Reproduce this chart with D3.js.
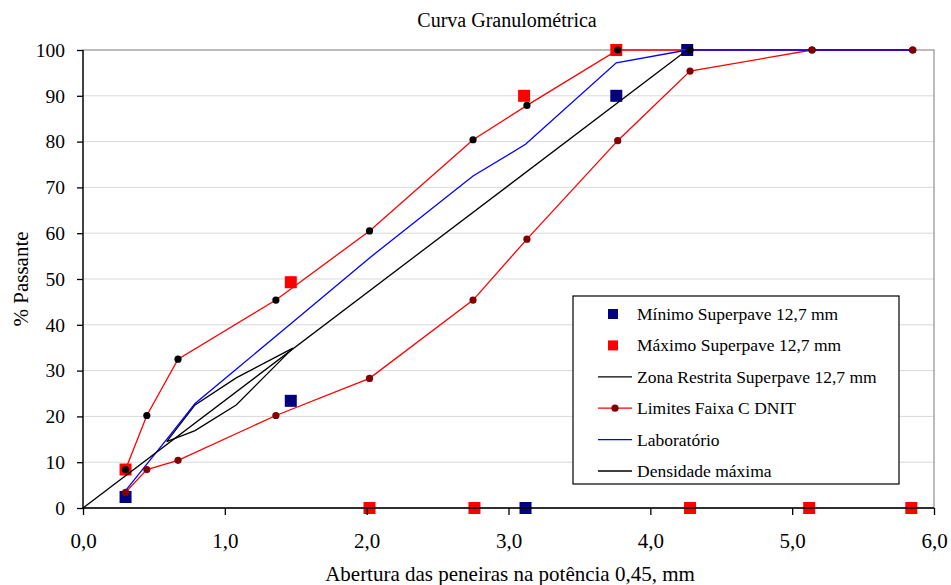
<!DOCTYPE html>
<html>
<head>
<meta charset="utf-8">
<script src="https://cdn.jsdelivr.net/npm/d3@7"></script>
<style>
  body { margin: 0; background: #fff; }
  svg { display: block; }
  svg text { font-family: 'Liberation Serif', serif !important; fill: #000; }
  .grid line { stroke: #d9d9d9; stroke-width: 1; }
  .axis path, .axis line { stroke: #000; stroke-width: 1.3; }
</style>
</head>
<body>
<div id="chart"></div>
<script>
;(function() {
  'use strict';

  // Peneiras na potencia 0,45
  var minimoX = [0.30, 1.465, 3.12, 3.76, 4.26];
  var minimoY = [2.4, 23.4, 0, 90, 100];

  var maximoX = [0.30, 1.465, 2.02, 2.76, 3.11, 3.76, 4.28, 5.12, 5.84];
  var maximoY = [8.4, 49.3, 0, 0, 90, 100, 0, 0, 0];

  var zonaX = [0.59, 0.79, 1.08, 1.48, 1.08, 0.79, 0.59];
  var zonaY = [14.5, 22.5, 28.4, 34.9, 22.5, 16.9, 14.5];

  var dnitX = [0.30, 0.45, 0.67, 1.36, 2.02, 2.75, 3.13, 3.77, 4.28, 5.14, 5.85];
  var dnitSup = [8.4, 20.2, 32.5, 45.4, 60.5, 80.4, 87.9, 100, 100, 100, 100];
  var dnitInf = [3.4, 8.4, 10.4, 20.2, 28.3, 45.4, 58.7, 80.2, 95.4, 100, 100];

  var labX = [0.30, 0.43, 0.59, 0.79, 1.08, 1.48, 2.02, 2.75, 3.12, 3.76, 4.26, 5.14, 5.85];
  var labY = [3.8, 8.8, 15.0, 22.8, 30.3, 40.6, 54.6, 72.5, 79.4, 97.2, 100, 100, 100];

  var densX = [0, 4.26];
  var densY = [0, 100];

  var xTicks = [0, 1, 2, 3, 4, 5, 6];
  var yTicks = [0, 10, 20, 30, 40, 50, 60, 70, 80, 90, 100];

  var legendLabels = [
    'Mínimo Superpave 12,7 mm',
    'Máximo Superpave 12,7 mm',
    'Zona Restrita Superpave 12,7 mm',
    'Limites Faixa C DNIT',
    'Laboratório',
    'Densidade máxima'
  ];

  var width = 951, height = 585;
  var margin = {top: 50, right: 17, bottom: 77, left: 83};
  var chartW = width - margin.left - margin.right,
      chartH = height - margin.top - margin.bottom;

  var xScale = d3.scaleLinear().domain([0, 6]).range([0, chartW]);
  var yScale = d3.scaleLinear().domain([0, 100]).range([chartH, 0]);

  function pairs(xs, ys) {
    return xs.map(function(x, i) { return [x, ys[i]]; });
  }
  function translation(x, y) {
    return 'translate(' + x + ',' + y + ')';
  }

  var svg = d3.select('#chart').append('svg')
      .attr('width', width)
      .attr('height', height);

  var inner = svg.append('g').attr('transform', translation(margin.left, margin.top));

  // Gridlines and plot border
  inner.append('g').attr('class', 'grid')
    .selectAll('line')
    .data(yTicks.slice(1, -1))
    .enter().append('line')
      .attr('x1', 0).attr('x2', chartW)
      .attr('y1', yScale).attr('y2', yScale);

  inner.append('rect')
      .attr('width', chartW).attr('height', chartH)
      .attr('fill', 'none').attr('stroke', '#999').attr('stroke-width', 1.3);

  var line = d3.line()
      .x(function(d) { return xScale(d[0]); })
      .y(function(d) { return yScale(d[1]); });

  function drawLine(data, colour) {
    inner.append('path')
        .datum(data)
        .attr('d', line)
        .attr('fill', 'none')
        .attr('stroke', colour)
        .attr('stroke-width', 1.3);
  }

  function drawSquares(data, colour) {
    inner.append('g').selectAll('rect')
      .data(data)
      .enter().append('rect')
        .attr('x', function(d) { return xScale(d[0]) - 6; })
        .attr('y', function(d) { return yScale(d[1]) - 6; })
        .attr('width', 12).attr('height', 12)
        .attr('fill', colour);
  }

  function drawDots(data, colour) {
    inner.append('g').selectAll('circle')
      .data(data)
      .enter().append('circle')
        .attr('cx', function(d) { return xScale(d[0]); })
        .attr('cy', function(d) { return yScale(d[1]); })
        .attr('r', 3.6)
        .attr('fill', colour);
  }

  drawSquares(pairs(minimoX, minimoY), '#000080');
  drawSquares(pairs(maximoX, maximoY), '#ff0000');
  drawLine(pairs(zonaX, zonaY), '#000');
  drawLine(pairs(dnitX, dnitSup), '#ff0000');
  drawLine(pairs(dnitX, dnitInf), '#ff0000');
  drawLine(pairs(labX, labY), '#0000ff');
  drawLine(pairs(densX, densY), '#000');
  drawDots(pairs(dnitX, dnitSup), '#000');
  drawDots(pairs(dnitX, dnitInf), '#800000');

  // Axes
  var xAxis = d3.axisBottom(xScale)
      .tickValues(xTicks)
      .tickSize(7)
      .tickPadding(18)
      .tickFormat(function(d) { return d3.format('.1f')(d).replace('.', ','); });

  var yAxis = d3.axisLeft(yScale)
      .tickValues(yTicks)
      .tickSize(6)
      .tickPadding(12);

  inner.append('g').attr('class', 'axis axis-x')
      .attr('transform', translation(0, chartH))
      .call(xAxis)
      .attr('font-family', null)
      .call(function(g) { g.select('.domain').attr('d', 'M0,0H' + chartW); })
      .selectAll('text').style('font-size', '21px');

  inner.append('g').attr('class', 'axis axis-y')
      .call(yAxis)
      .attr('font-family', null)
      .call(function(g) { g.select('.domain').attr('d', 'M0,' + chartH + 'V0'); })
      .selectAll('text').style('font-size', '19.5px');

  // Titles
  svg.append('text')
      .attr('x', 507).attr('y', 27)
      .attr('text-anchor', 'middle')
      .style('font-size', '20px')
      .text('Curva Granulométrica');

  svg.append('text')
      .attr('x', 510).attr('y', 581)
      .attr('text-anchor', 'middle')
      .style('font-size', '21px')
      .text('Abertura das peneiras na potência 0,45, mm');

  svg.append('text')
      .attr('transform', translation(28, 279) + ' rotate(-90)')
      .attr('text-anchor', 'middle')
      .style('font-size', '21px')
      .text('% Passante');

  // Legend
  var legend = svg.append('g').attr('transform', translation(573, 296));
  legend.append('rect')
      .attr('width', 326).attr('height', 188)
      .attr('fill', '#fff').attr('stroke', '#000').attr('stroke-width', 1.2);

  var items = legend.selectAll('g.item')
    .data(legendLabels)
    .enter().append('g')
      .attr('class', 'item')
      .attr('transform', function(d, i) { return translation(0, 18 + i * 31.4); });

  items.append('text')
      .attr('x', 64).attr('y', 6)
      .style('font-size', '17.5px')
      .text(function(d) { return d; });

  items.filter(function(d, i) { return i < 2; })
    .append('rect')
      .attr('x', 35).attr('y', -5)
      .attr('width', 10).attr('height', 10)
      .attr('fill', function(d, i) { return i === 0 ? '#000080' : '#ff0000'; });

  items.filter(function(d, i) { return i >= 2; })
    .append('line')
      .attr('x1', 25).attr('x2', 59)
      .attr('stroke', function(d, i) { return ['#000', '#ff0000', '#0000ff', '#000'][i]; })
      .attr('stroke-width', 1.3);

  items.filter(function(d, i) { return i === 3; })
    .append('circle')
      .attr('cx', 42).attr('r', 3.6)
      .attr('fill', '#800000');

}());
</script>
</body>
</html>
